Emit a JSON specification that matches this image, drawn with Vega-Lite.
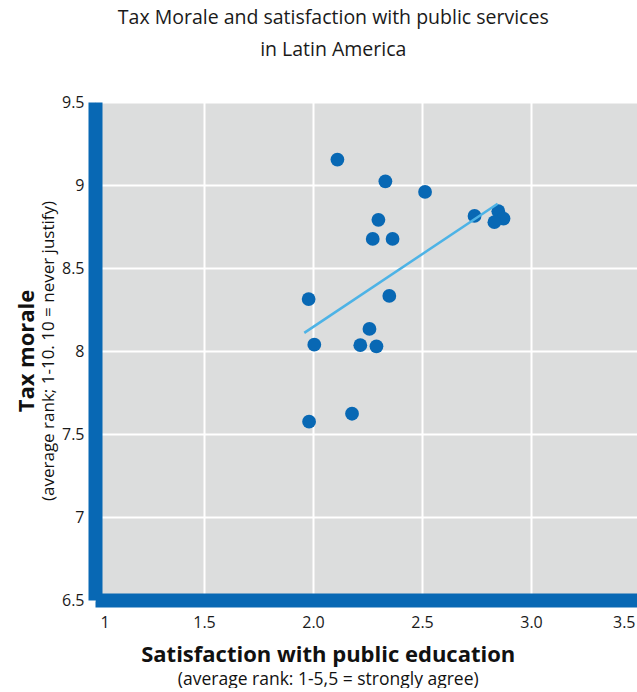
{
  "$schema": "https://vega.github.io/schema/vega-lite/v6.json",
  "background": "white",
  "padding": {"left": 14, "top": 8, "right": 0, "bottom": 0},
  "datasets": {
    "points": [
      {"satisfaction": 2.112, "tax_morale": 9.153},
      {"satisfaction": 2.332, "tax_morale": 9.022},
      {"satisfaction": 2.514, "tax_morale": 8.958},
      {"satisfaction": 2.300, "tax_morale": 8.790},
      {"satisfaction": 2.274, "tax_morale": 8.675},
      {"satisfaction": 2.365, "tax_morale": 8.675},
      {"satisfaction": 2.741, "tax_morale": 8.814},
      {"satisfaction": 2.850, "tax_morale": 8.842},
      {"satisfaction": 2.874, "tax_morale": 8.798},
      {"satisfaction": 2.832, "tax_morale": 8.776},
      {"satisfaction": 1.980, "tax_morale": 8.313},
      {"satisfaction": 2.350, "tax_morale": 8.332},
      {"satisfaction": 2.006, "tax_morale": 8.038},
      {"satisfaction": 2.259, "tax_morale": 8.133},
      {"satisfaction": 2.217, "tax_morale": 8.035},
      {"satisfaction": 2.291, "tax_morale": 8.028},
      {"satisfaction": 2.179, "tax_morale": 7.622},
      {"satisfaction": 1.982, "tax_morale": 7.574}
    ],
    "trend": [
      {"satisfaction": 1.960, "tax_morale": 8.109},
      {"satisfaction": 2.847, "tax_morale": 8.887}
    ]
  },
  "config": {
    "font": "Open Sans",
    "view": {"fill": "#dcdddd", "stroke": "#0868b4", "strokeWidth": 1},
    "concat": {"spacing": 0},
    "axis": {
      "domainColor": "#0868b4",
      "domainWidth": 14,
      "gridColor": "white",
      "gridWidth": 2,
      "gridOpacity": 1,
      "tickColor": "white",
      "tickWidth": 2,
      "tickSize": 7,
      "labelFont": "Open Sans",
      "labelFontSize": 16,
      "labelColor": "#1a1a1a",
      "title": null
    }
  },
  "title": {
    "text": ["Tax Morale and satisfaction with public services", "in Latin America"],
    "font": "Open Sans",
    "fontSize": 19.5,
    "fontWeight": "normal",
    "color": "#1a1a1a",
    "lineHeight": 32,
    "anchor": "middle",
    "dx": 5,
    "offset": 33
  },
  "vconcat": [
    {
      "title": {
        "text": "Satisfaction with public education",
        "subtitle": "(average rank: 1-5,5 = strongly agree)",
        "orient": "bottom",
        "anchor": "middle",
        "font": "Open Sans",
        "fontSize": 22,
        "fontWeight": "bold",
        "color": "#111111",
        "subtitleFont": "Open Sans",
        "subtitleFontSize": 17.5,
        "subtitleColor": "#111111",
        "subtitlePadding": 4,
        "offset": 14
      },
      "vconcat": [
        {
          "title": {
            "text": "Tax morale",
            "subtitle": "(average rank; 1-10. 10 = never justify)",
            "orient": "left",
            "anchor": "middle",
            "font": "Open Sans",
            "fontSize": 22,
            "fontWeight": "bold",
            "color": "#111111",
            "subtitleFont": "Open Sans",
            "subtitleFontSize": 17,
            "subtitleColor": "#111111",
            "subtitlePadding": 2,
            "offset": 4
          },
          "width": 545,
          "height": 498,
          "layer": [
            {
              "data": {"name": "points"},
              "mark": {"type": "circle", "size": 190, "opacity": 1, "color": "#0868b4"},
              "encoding": {
                "x": {
                  "field": "satisfaction",
                  "type": "quantitative",
                  "scale": {"domain": [1, 3.5], "nice": false, "zero": false},
                  "axis": {
                    "values": [1, 1.5, 2, 2.5, 3, 3.5],
                    "labelExpr": "datum.value == 1 ? '1' : format(datum.value, '.1f')",
                    "labelFlush": true,
                    "labelFlushOffset": -5,
                    "labelPadding": 7
                  }
                },
                "y": {
                  "field": "tax_morale",
                  "type": "quantitative",
                  "scale": {"domain": [6.5, 9.5], "nice": false, "zero": false},
                  "axis": {
                    "values": [6.5, 7, 7.5, 8, 8.5, 9, 9.5],
                    "labelExpr": "datum.value % 1 == 0 ? format(datum.value, 'd') : format(datum.value, '.1f')",
                    "labelPadding": 4
                  }
                }
              }
            },
            {
              "data": {"name": "trend"},
              "mark": {"type": "line", "color": "#4db3e6", "strokeWidth": 2.5},
              "encoding": {
                "x": {"field": "satisfaction", "type": "quantitative"},
                "y": {"field": "tax_morale", "type": "quantitative"}
              }
            }
          ]
        }
      ]
    }
  ]
}
